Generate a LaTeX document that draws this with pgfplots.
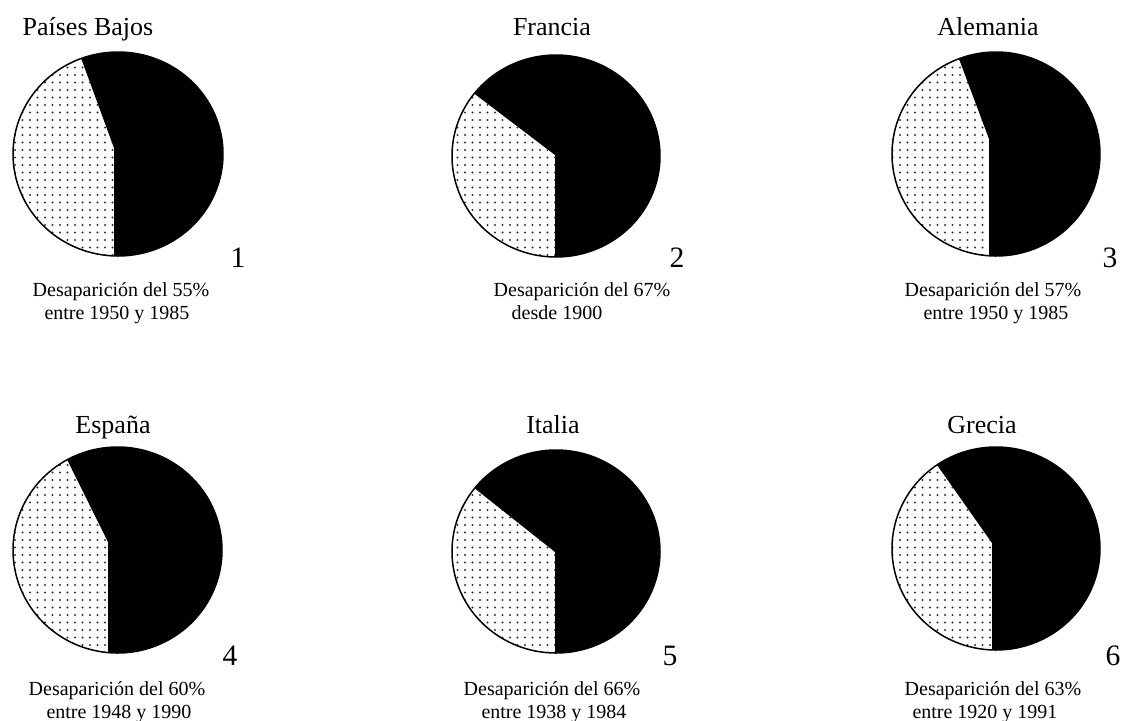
\documentclass[border=0pt]{standalone}
\usepackage{fontspec}
\setmainfont{Liberation Serif}
\usepackage{pgfplots}
\pgfplotsset{compat=1.18}
\usetikzlibrary{patterns.meta}

\tikzdeclarepattern{
  name=pdots,
  type=uncolored,
  bottom left={(-1.875pt,-1.875pt)},
  top right={(1.875pt,1.875pt)},
  tile size={(3.75pt,3.75pt)},
  code={\fill (0pt,0pt) circle (0.55pt);}
}

% #1 cx, #2 cy, #3 rx, #4 ry, #5 vertex x, #6 vertex y, #7 percentage (black share)
\newcommand{\pie}[7]{%
  \addplot[draw=none, fill=black, domain={-90-asin((#1-#5)/#3)}:{-90+3.6*#7}, samples=160, variable=\t]
     ({#1+#3*cos(\t)},{#2-#4*sin(\t)}) -- (axis cs:#5,#6) -- cycle;
  \addplot[draw=none, pattern=pdots, pattern color=black!80, domain={-90+3.6*#7}:{270-asin((#1-#5)/#3)}, samples=160, variable=\t]
     ({#1+#3*cos(\t)},{#2-#4*sin(\t)}) -- (axis cs:#5,#6) -- cycle;
  \addplot[black, line width=0.75pt, domain=0:360, samples=220, variable=\t]
     ({#1+#3*cos(\t)},{#2-#4*sin(\t)});
}

\newcommand{\ttl}{\fontsize{13}{15}\selectfont}
\newcommand{\lbl}{\fontsize{10}{12}\selectfont}
\newcommand{\num}{\fontsize{14.8}{17}\selectfont}

\begin{document}
\begin{tikzpicture}
\useasboundingbox (0,0) rectangle (560.5pt,360pt);
\begin{axis}[at={(0,0)}, anchor=south west, scale only axis,
  width=560.5pt, height=360pt,
  xmin=0, xmax=1121, ymin=0, ymax=720, y dir=reverse,
  hide axis, clip=false]

\pie{118}{154}{105}{102}{114}{148}{55.7}
\pie{556}{156}{104}{101}{555}{155}{64.4}
\pie{996}{154}{104}{102}{989}{139}{55.8}
\pie{117.5}{550}{104.5}{103}{108}{542}{58}
\pie{556}{551.5}{104}{101.5}{555}{552}{64.3}
\pie{996}{548.5}{104}{101.5}{992}{543}{59.6}

% titles
\node[anchor=base, font=\ttl] at (axis cs:88,35) {Países Bajos};
\node[anchor=base, font=\ttl] at (axis cs:552,35) {Francia};
\node[anchor=base, font=\ttl] at (axis cs:988,35) {Alemania};
\node[anchor=base, font=\ttl] at (axis cs:113,433) {España};
\node[anchor=base, font=\ttl] at (axis cs:553,433) {Italia};
\node[anchor=base, font=\ttl] at (axis cs:982,433) {Grecia};

% numbers
\node[anchor=base, font=\num] at (axis cs:238,267) {1};
\node[anchor=base, font=\num] at (axis cs:677,267) {2};
\node[anchor=base, font=\num] at (axis cs:1110,267) {3};
\node[anchor=base, font=\num] at (axis cs:230,665) {4};
\node[anchor=base, font=\num] at (axis cs:670,665) {5};
\node[anchor=base, font=\num] at (axis cs:1113,665) {6};

% captions
\node[anchor=base, font=\lbl] at (axis cs:121,296) {Desaparición del 55\%};
\node[anchor=base, font=\lbl] at (axis cs:117,319) {entre 1950 y 1985};
\node[anchor=base, font=\lbl] at (axis cs:582,296) {Desaparición del 67\%};
\node[anchor=base, font=\lbl] at (axis cs:557,319) {desde 1900};
\node[anchor=base, font=\lbl] at (axis cs:993,296) {Desaparición del 57\%};
\node[anchor=base, font=\lbl] at (axis cs:996,319) {entre 1950 y 1985};
\node[anchor=base, font=\lbl] at (axis cs:117,695) {Desaparición del 60\%};
\node[anchor=base, font=\lbl] at (axis cs:119,718) {entre 1948 y 1990};
\node[anchor=base, font=\lbl] at (axis cs:552,695) {Desaparición del 66\%};
\node[anchor=base, font=\lbl] at (axis cs:554,718) {entre 1938 y 1984};
\node[anchor=base, font=\lbl] at (axis cs:993,695) {Desaparición del 63\%};
\node[anchor=base, font=\lbl] at (axis cs:985,718) {entre 1920 y 1991};
\end{axis}
\end{tikzpicture}
\end{document}
